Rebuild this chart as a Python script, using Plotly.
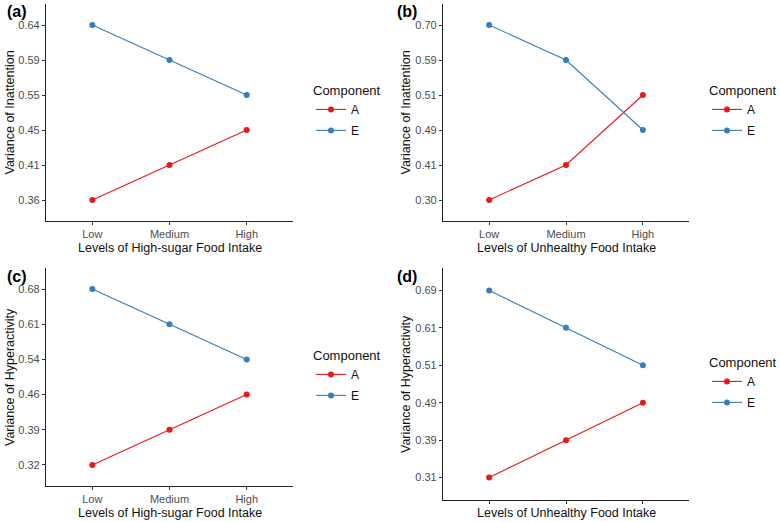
import plotly.graph_objects as go

levels = ["Low", "Medium", "High"]
components = ["A", "E"]

# Panel data (variance values)
a_inatt_sugar = [0.36, 0.41, 0.45]
e_inatt_sugar = [0.64, 0.59, 0.55]
a_inatt_unhealthy = [0.30, 0.41, 0.51]
e_inatt_unhealthy = [0.70, 0.59, 0.49]
a_hyper_sugar = [0.32, 0.39, 0.46]
e_hyper_sugar = [0.68, 0.61, 0.54]
a_hyper_unhealthy = [0.31, 0.39, 0.49]
e_hyper_unhealthy = [0.69, 0.61, 0.51]

panel_labels = ["(a)", "(b)", "(c)", "(d)"]
x_titles = ["Levels of High-sugar Food Intake", "Levels of Unhealthy Food Intake",
            "Levels of High-sugar Food Intake", "Levels of Unhealthy Food Intake"]
y_titles = ["Variance of Inattention", "Variance of Inattention",
            "Variance of Hyperactivity", "Variance of Hyperactivity"]

panels = [
    (a_inatt_sugar, e_inatt_sugar),
    (a_inatt_unhealthy, e_inatt_unhealthy),
    (a_hyper_sugar, e_hyper_sugar),
    (a_hyper_unhealthy, e_hyper_unhealthy),
]

colors = {"A": "#E41A1C", "E": "#377EB8"}
W, H = 780, 522
FONT = "Liberation Sans, Arial, sans-serif"

# pixel boxes: (left, right, top, bottom)
boxes = [
    (46, 293, 4, 221),
    (443, 689, 4, 221),
    (46, 293, 268, 486),
    (443, 689, 268, 500),
]
legend_pos = [(311, 78), (707, 78), (311, 343), (707, 350)]
label_pos = [(17, 12), (407, 12), (17, 276), (407, 276)]
ytitle_x = [10, 406, 10, 406]
xtitle_y = [248, 248, 513, 513]
show_xticklabels = [True, True, True, False]

fig = go.Figure()

def fmt(v):
    return f"{v:.2f}"

for i, (a_vals, e_vals) in enumerate(panels):
    n = i + 1
    xa = "x" if n == 1 else f"x{n}"
    ya = "y" if n == 1 else f"y{n}"
    lg = "legend" if n == 1 else f"legend{n}"
    for comp, vals in zip(components, (a_vals, e_vals)):
        fig.add_trace(go.Scatter(
            x=levels, y=[fmt(v) for v in vals], mode="lines+markers", name=comp,
            line=dict(color=colors[comp], width=1.1),
            marker=dict(color=colors[comp], size=6),
            xaxis=xa, yaxis=ya, legend=lg, legendgroup=f"{comp}{n}",
        ))
    cats = sorted(set(fmt(v) for v in a_vals + e_vals), key=float)
    l, r, t, b = boxes[i]
    axis_common = dict(
        showline=True, linecolor="#222222", linewidth=1.2, showgrid=False,
        zeroline=False, ticks="outside", ticklen=3, tickcolor="#333333",
        tickwidth=1, tickfont=dict(family=FONT, size=11, color="#4D4D4D"),
        fixedrange=True, automargin=False,
    )
    fig.layout[f"xaxis{'' if n == 1 else n}"] = dict(
        axis_common, domain=[l / W, r / W], anchor=ya, type="category",
        categoryorder="array", categoryarray=levels, range=[-0.6, 2.6],
        showticklabels=show_xticklabels[i],
    )
    fig.layout[f"yaxis{'' if n == 1 else n}"] = dict(
        axis_common, domain=[1 - b / H, 1 - t / H], anchor=xa, type="category",
        categoryorder="array", categoryarray=cats, range=[-0.6, len(cats) - 0.4],
    )
    fig.add_annotation(
        text=x_titles[i], xref="paper", yref="paper", x=((l + r) / 2) / W,
        y=1 - xtitle_y[i] / H, showarrow=False,
        font=dict(family=FONT, size=12.5, color="#111111"), xanchor="center", yanchor="middle",
    )
    fig.add_annotation(
        text=y_titles[i], xref="paper", yref="paper", x=ytitle_x[i] / W,
        y=1 - ((t + b) / 2) / H, textangle=-90, showarrow=False,
        font=dict(family=FONT, size=12.5, color="#111111"), xanchor="center", yanchor="middle",
    )
    fig.add_annotation(
        text=f"<b>{panel_labels[i]}</b>", xref="paper", yref="paper",
        x=label_pos[i][0] / W, y=1 - label_pos[i][1] / H, showarrow=False,
        font=dict(family=FONT, size=16, color="#000000"), xanchor="center", yanchor="middle",
    )
    lx, ly = legend_pos[i]
    fig.layout[lg] = dict(
        x=lx / W, y=1 - ly / H, xanchor="left", yanchor="top",
        title=dict(text="Component", font=dict(family=FONT, size=13, color="#111111")),
        font=dict(family=FONT, size=12, color="#111111"),
        itemwidth=30, bgcolor="rgba(0,0,0,0)", tracegroupgap=2,
    )

fig.update_layout(
    width=W, height=H, margin=dict(l=0, r=0, t=0, b=0),
    paper_bgcolor="white", plot_bgcolor="white", showlegend=True,
)
fig.write_html(
    "out.html",
    config={"displayModeBar": False},
    post_script="document.body.style.margin='0';document.body.style.overflow='hidden';",
)
